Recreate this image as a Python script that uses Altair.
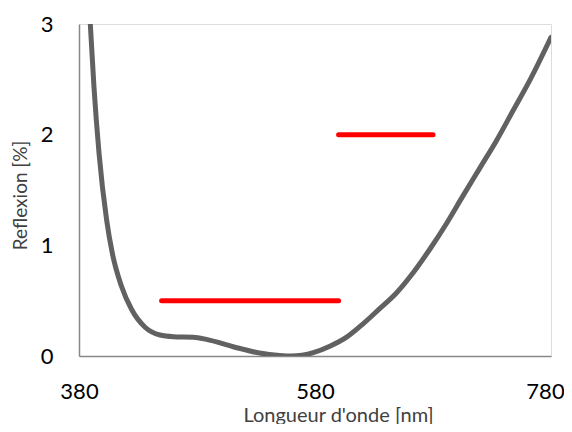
import altair as alt
import pandas as pd

# Gray reflection curve
wl = [384, 389.6, 392.7, 397, 403.4, 408.2, 416, 424.6, 436, 448.6, 460, 477, 488, 510.7,
      533, 550, 560, 578.6, 593, 606.8, 620.7, 635, 649, 663, 677, 691.6, 705, 719.8, 734,
      748, 762, 780]
refl = [4.1, 3.0, 2.43, 1.83, 1.23, 0.93, 0.63, 0.42, 0.26, 0.19, 0.175, 0.17, 0.15, 0.084,
        0.027, 0.005, 0.0, 0.03, 0.09, 0.17, 0.29, 0.43, 0.57, 0.75, 0.96, 1.2, 1.44, 1.7, 1.95,
        2.22, 2.49, 2.88]

# Red tolerance segments
seg_start = [450, 600]
seg_end = [600, 680]
seg_level = [0.5, 2.0]

curve = pd.DataFrame({"wl": wl, "refl": refl})
segs = pd.DataFrame({"x1": seg_start, "x2": seg_end, "y": seg_level})

FONT = "Lato"

xscale = alt.Scale(domain=[380, 780], nice=False, zero=False)
yscale = alt.Scale(domain=[0, 3], nice=False)

line = alt.Chart(curve).mark_line(
    color="#616161", strokeWidth=5, interpolate="monotone", clip=True, strokeCap="round"
).encode(
    x=alt.X("wl:Q", scale=xscale, axis=alt.Axis(
        values=[380, 580, 780], format="d", title="Longueur d'onde [nm]", grid=False, ticks=False,
        domainColor="#888888", domainWidth=1.5, labelFontSize=22, labelFont=FONT,
        labelColor="#000000", labelPadding=25, labelFlush=False, labelAlign="center",
        labelOverlap=False, labelOffset={"expr": "datum.value == 780 ? -6 : 0"},
        titleFont=FONT, titleFontSize=20, titleFontWeight="normal", titleColor="#404040",
        titlePadding=3, titleX=259)),
    y=alt.Y("refl:Q", scale=yscale, axis=alt.Axis(
        values=[0, 1, 2, 3], format="d", title="Reflexion [%]", grid=False, ticks=False,
        domainColor="#888888", domainWidth=1.5, labelFontSize=22, labelFont=FONT,
        labelColor="#000000", labelPadding=26, labelFlush=False, labelOverlap=False,
        titleFont=FONT, titleFontSize=19, titleFontWeight="normal", titleColor="#404040",
        titlePadding=10, titleY=171)),
)

rules = alt.Chart(segs).mark_rule(
    color="#ff0000", strokeWidth=5, strokeCap="round"
).encode(
    x=alt.X("x1:Q", scale=xscale),
    x2="x2:Q",
    y=alt.Y("y:Q", scale=yscale),
)

chart = alt.layer(line, rules).properties(
    width=472, height=332,
    autosize=alt.AutoSizeParams(type="none"),
    padding={"left": 71, "top": 16, "right": 13, "bottom": 68},
).configure_view(stroke=None).configure(background="white")

chart.save("out.html", embed_options={"renderer": "svg", "actions": False})
